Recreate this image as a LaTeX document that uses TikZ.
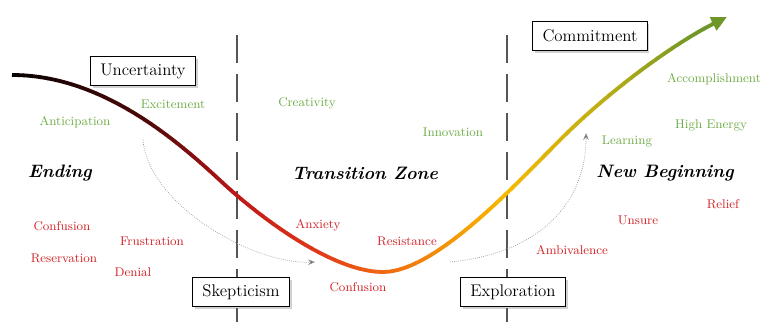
\documentclass[tikz,border=0pt]{standalone}
\usetikzlibrary{arrows.meta,shadows}
\definecolor{lgreen}{RGB}{112,173,71}
\definecolor{lred}{RGB}{210,35,40}
\definecolor{zline}{RGB}{85,85,85}
\definecolor{hintc}{RGB}{150,150,150}
% colour stops of the curve, by x position
\definecolor{gA}{RGB}{80,10,10}
\definecolor{gAA}{RGB}{140,15,15}
\definecolor{gB}{RGB}{190,25,25}
\definecolor{gC}{RGB}{225,55,25}
\definecolor{gD}{RGB}{240,105,20}
\definecolor{gE}{RGB}{245,165,0}
\definecolor{gEE}{RGB}{245,185,0}
\definecolor{gF}{RGB}{190,175,20}
\definecolor{gG}{RGB}{110,150,40}

\newcommand\gradmix[4]{%
  \pgfmathtruncatemacro\gradp{(\cpos-#1)/(#2-#1)*100}%
  \colorlet{curvecol}{#4!\gradp!#3}}
\newcommand\setcurvecol{%
  \ifdim\cpos pt<19.6pt \gradmix{0}{19.6}{black}{gA}%
  \else\ifdim\cpos pt<26.1pt \gradmix{19.6}{26.1}{gA}{gAA}%
  \else\ifdim\cpos pt<31pt \gradmix{26.1}{31}{gAA}{gB}%
  \else\ifdim\cpos pt<41.4pt \gradmix{31}{41.4}{gB}{gC}%
  \else\ifdim\cpos pt<50.1pt \gradmix{41.4}{50.1}{gC}{gD}%
  \else\ifdim\cpos pt<61.8pt \gradmix{50.1}{61.8}{gD}{gE}%
  \else\ifdim\cpos pt<66.3pt \gradmix{61.8}{66.3}{gE}{gEE}%
  \else\ifdim\cpos pt<78.4pt \gradmix{66.3}{78.4}{gEE}{gF}%
  \else\ifdim\cpos pt<91.5pt \gradmix{78.4}{91.5}{gF}{gG}%
  \else \colorlet{curvecol}{gG}%
  \fi\fi\fi\fi\fi\fi\fi\fi\fi}
\newcommand\changecurve{(0.3,6.175)
  .. controls (2.6,6.175) and (4.5,4.47) .. (5.6,3.45)
  .. controls (6.48,2.64) and (8.3,1.25) .. (9.575,1.25)
  .. controls (10.875,1.25) and (12.87,3.42) .. (14.0,4.55)
  .. controls (15.3,5.85) and (16.92,7.0) .. (18.175,7.625)}

\begin{document}
\begin{tikzpicture}[
  box/.style={draw, fill=white, line width=0.8pt, font=\large, inner xsep=7pt,
    minimum height=0.72cm, drop shadow={shadow xshift=1.5pt, shadow yshift=-1.5pt, opacity=0.35}},
  zone/.style={font=\fontsize{12.8}{15}\selectfont\bfseries\itshape},
  good/.style={font=\small, text=lgreen},
  bad/.style={font=\small, text=lred},
  divider/.style={zline, line width=2pt, dash pattern=on 20pt off 7.8pt},
  hint/.style={hintc, line width=0.5pt, densely dotted, -{Stealth[length=5pt, width=4pt, fill=zline]}},
  curveline/.style={curvecol, line width=2.7pt, -{Triangle[length=11pt, width=10pt]}}]
  \path[use as bounding box, fill=white] (0,0) rectangle (19.125,8.05);

  % zone borders
  \draw[divider] (5.925,7.18) -- (5.925,0);
  \draw[divider] (12.675,7.18) -- (12.675,0);

  % change curve, coloured strip by strip
  \foreach \i in {0,...,96} {
    \pgfmathsetmacro\xa{\i*0.2}
    \pgfmathsetmacro\cpos{(\xa+0.1)/19.125*100}
    \setcurvecol
    \begin{scope}
      \clip (\xa-0.01,0) rectangle (\xa+0.21,8.05);
      \draw[curveline] \changecurve;
    \end{scope}
  }

  % stages
  \node[box] (unc) at (3.575,6.275) {Uncertainty};
  \node[box] (com) at (14.75,7.15) {Commitment};
  \node[box] (skep) at (6.025,0.75) {Skepticism};
  \node[box] (expl) at (12.825,0.75) {Exploration};

  \node[zone] (end) at (1.5,3.725) {Ending};
  \node[zone] (trans) at (9.125,3.725) {Transition Zone};
  \node[zone] (new) at (16.625,3.725) {New Beginning};

  % feelings
  \node[good] (antic) at (1.875,5.0) {Anticipation};
  \node[good] (excit) at (4.325,5.45) {Excitement};
  \node[good] (creat) at (7.675,5.475) {Creativity};
  \node[good] (innov) at (11.325,4.75) {Innovation};
  \node[good] (learn) at (15.675,4.525) {Learning};
  \node[good] (accom) at (17.85,6.075) {Accomplishment};
  \node[good] (energy) at (17.775,4.925) {High Energy};

  \node[bad] (confA) at (1.55,2.4) {Confusion};
  \node[bad] (reser) at (1.6,1.6) {Reservation};
  \node[bad] (frust) at (3.8,2.025) {Frustration};
  \node[bad] (denial) at (3.325,1.25) {Denial};
  \node[bad] (anx) at (7.95,2.425) {Anxiety};
  \node[bad] (resist) at (10.175,2.025) {Resistance};
  \node[bad] (confB) at (8.95,0.875) {Confusion};
  \node[bad] (ambiv) at (14.3,1.8) {Ambivalence};
  \node[bad] (unsure) at (15.95,2.55) {Unsure};
  \node[bad] (relief) at (18.075,2.95) {Relief};

  % dotted hints
  \coordinate (hAs) at (3.575,4.55);
  \coordinate (hAe) at (7.875,1.5);
  \coordinate (hBs) at (11.25,1.5);
  \coordinate (hBe) at (14.65,4.725);
  \draw[hint] (hAs) .. controls (3.71,2.96) and (6.28,1.44) .. (hAe);
  \draw[hint] (hBs) .. controls (13.4,1.7) and (14.65,2.9) .. (hBe);
\end{tikzpicture}
\end{document}
